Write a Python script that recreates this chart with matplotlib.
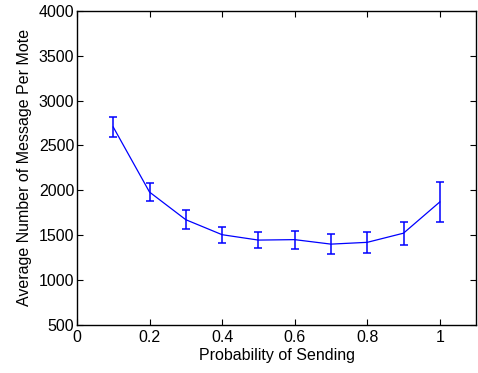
import matplotlib
matplotlib.use("Agg")
import matplotlib.pyplot as plt

prob = [0.1, 0.2, 0.3, 0.4, 0.5, 0.6, 0.7, 0.8, 0.9, 1.0]
avg_msgs = [2705, 1980, 1672, 1505, 1445, 1450, 1400, 1420, 1522, 1870]
err = [115, 100, 107, 90, 90, 100, 110, 120, 128, 225]

plt.rcParams["font.family"] = ["Liberation Sans", "DejaVu Sans"]
plt.rcParams["font.size"] = 11.5

fig = plt.figure(figsize=(4.78, 3.73), dpi=100)
ax = fig.add_axes([0.161, 0.129, 0.835, 0.842])

ax.errorbar(prob, avg_msgs, yerr=err, color="blue", linewidth=0.9,
            elinewidth=1.1, capsize=3, capthick=1.1)

ax.set_xlim(0, 1.1)
ax.set_ylim(500, 4000)
ax.set_xticks([0, 0.2, 0.4, 0.6, 0.8, 1])
ax.set_xticklabels(["0", "0.2", "0.4", "0.6", "0.8", "1"])
ax.set_yticks(range(500, 4001, 500))
ax.tick_params(direction="in", top=True, right=True, length=4, width=0.8, pad=2)
ax.tick_params(axis="x", pad=4)
for s in ax.spines.values():
    s.set_linewidth(1.0)

ax.set_xlabel("Probability of Sending", labelpad=2)
ax.set_ylabel("Average Number of Message Per Mote", labelpad=5)

fig.savefig("out.png", dpi=100)
